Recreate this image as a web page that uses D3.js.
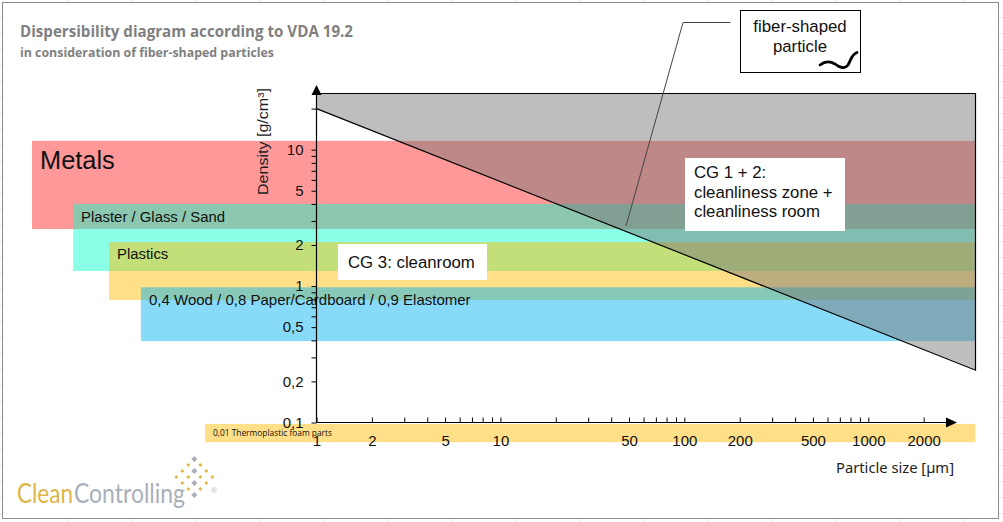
<!DOCTYPE html>
<html><head><meta charset="utf-8">
<script src="https://cdnjs.cloudflare.com/ajax/libs/d3/7.8.5/d3.min.js"></script>
<style>html,body{margin:0;padding:0;background:#fff}svg{display:block}</style>
</head><body><div id="chart"></div>
<script>
// ---- data ----
const bandNames   = ["Metals","Plaster / Glass / Sand","Plastics","0,4 Wood / 0,8 Paper/Cardboard / 0,9 Elastomer","0,01 Thermoplastic foam parts"];
const bandSizeMin = [0.0284, 0.0475, 0.0745, 0.111, 0.248];
const bandDensHi  = [11.6, 4.0, 2.1, 0.98, 0.0977];
const bandDensLo  = [2.62, 1.29, 0.79, 0.395, 0.0717];
const bandColors  = ["#ff0000","#00ffca","#ffbc00","#00b0f0","#ffbc00"];
const sizeTicks   = [1,2,3,4,5,6,7,8,9,10,20,30,40,50,60,70,80,90,100,200,300,400,500,600,700,800,900,1000,2000];
const sizeLabels  = [1,2,5,10,50,100,200,500,1000,2000];
const densTicks   = [0.1,0.2,0.3,0.4,0.5,0.6,0.7,0.8,0.9,1,2,3,4,5,6,7,8,9,10,20];
const densLabels  = [0.1,0.2,0.5,1,2,5,10];
const limitSizes  = [1, 3826];
const limitDens   = [20, 0.2417];
const densTop     = 25.8;

const W=1003,H=522;
const x=d3.scaleLog().domain(limitSizes).range([316.5,975.5]);
const y=d3.scaleLog().domain([0.1,densTop]).range([422.5,93.5]);
const svg=d3.select("#chart").append("svg").attr("width",W).attr("height",H);
const ARIAL="'Liberation Sans',Arial,sans-serif", OPEN="'Open Sans',sans-serif", NOTO="'Noto Sans',sans-serif";

// sheet grid remains outside the frame
const faint=svg.append("g").attr("stroke","#e3e3e3").attr("stroke-width",1);
d3.range(67.5,W,64).forEach(v=>{faint.append("line").attr("x1",v).attr("x2",v).attr("y1",0).attr("y2",2);faint.append("line").attr("x1",v).attr("x2",v).attr("y1",519).attr("y2",H);});
d3.range(17.5,H,16).forEach(v=>{faint.append("line").attr("x1",999).attr("x2",W).attr("y1",v).attr("y2",v);faint.append("line").attr("x1",0).attr("x2",2).attr("y1",v).attr("y2",v);});
// frame
svg.append("rect").attr("x",2.5).attr("y",2.5).attr("width",996).attr("height",516).attr("fill","#fff").attr("stroke","#8c8c8c").attr("stroke-width",1);

// titles
svg.append("text").attr("x",20).attr("y",36.5).attr("font-family",OPEN).attr("font-weight",700).attr("font-size",15.5).attr("fill","#7f7f7f").attr("textLength",333).attr("lengthAdjust","spacingAndGlyphs").text("Dispersibility diagram according to VDA 19.2");
svg.append("text").attr("x",20).attr("y",57).attr("font-family",OPEN).attr("font-weight",700).attr("font-size",12.5).attr("fill","#7f7f7f").attr("textLength",254).attr("lengthAdjust","spacingAndGlyphs").text("in consideration of fiber-shaped particles");

// material bands
svg.append("g").selectAll("rect").data(bandNames).join("rect")
  .attr("x",(d,i)=>x(bandSizeMin[i])).attr("width",(d,i)=>x(limitSizes[1])-x(bandSizeMin[i]))
  .attr("y",(d,i)=>y(bandDensHi[i])).attr("height",(d,i)=>y(bandDensLo[i])-y(bandDensHi[i]))
  .attr("fill",(d,i)=>bandColors[i]).attr("fill-opacity",(d,i)=>i===0?0.4:(i===1?0.45:0.47));

// grey zone above the limit line
const zone=[[limitSizes[0],densTop],[limitSizes[1],densTop],[limitSizes[1],limitDens[1]],[limitSizes[0],limitDens[0]]];
svg.append("path").attr("d",d3.line().x(d=>x(d[0])).y(d=>y(d[1]))(zone)+"")
  .attr("fill","#757575").attr("fill-opacity",0.47).attr("stroke","#000").attr("stroke-width",1.2);

// band labels
const labelX=[40,81,117,149,213], labelY=[169,222,259,305,436], labelS=[25.4,14.9,14.9,15,9.2];
svg.append("g").selectAll("text").data(bandNames).join("text")
  .attr("x",(d,i)=>labelX[i]).attr("y",(d,i)=>labelY[i]).attr("font-size",(d,i)=>labelS[i])
  .attr("font-family",(d,i)=>i===4?OPEN:ARIAL).attr("fill","#111")
  .attr("textLength",(d,i)=>i===4?119:null).attr("lengthAdjust","spacingAndGlyphs").text(d=>d);

// axes
const fmt=v=>String(v).replace(".",",");
const gx=svg.append("g").attr("transform","translate(0,422.5)").call(
  d3.axisBottom(x).tickValues(sizeTicks).tickSizeInner(-5).tickSizeOuter(0).tickPadding(13).tickFormat(v=>sizeLabels.includes(v)?fmt(v):""));
const gy=svg.append("g").attr("transform","translate(316.5,0)").call(
  d3.axisLeft(y).tickValues(densTicks).tickSize(5).tickPadding(8).tickFormat(v=>densLabels.includes(v)?fmt(v):""));
[gx,gy].forEach(g=>{g.select(".domain").remove();g.selectAll("text").attr("font-family",ARIAL).attr("font-size",15).attr("fill","#111");g.selectAll("line").attr("stroke","#000");});
svg.append("line").attr("x1",316.5).attr("x2",947).attr("y1",422.5).attr("y2",422.5).attr("stroke","#000").attr("stroke-width",1.2);
svg.append("line").attr("x1",316.5).attr("x2",316.5).attr("y1",422.5).attr("y2",94).attr("stroke","#000").attr("stroke-width",1.2);
svg.append("path").attr("d","M957,422.5L946,417.5L946,427.5Z").attr("fill","#000");
svg.append("path").attr("d","M316.5,85L311.5,95L321.5,95Z").attr("fill","#000");

// axis titles
svg.append("text").attr("x",836).attr("y",473).attr("font-family",NOTO).attr("font-size",15).attr("fill","#222").attr("textLength",118).attr("lengthAdjust","spacingAndGlyphs").text("Particle size [µm]");
svg.append("text").attr("transform","translate(267.5,195) rotate(-90)").attr("font-family",ARIAL).attr("font-size",15).attr("fill","#222").attr("textLength",107).attr("lengthAdjust","spacingAndGlyphs").text("Density [g/cm³]");

// white annotation boxes
svg.append("rect").attr("x",338).attr("y",244).attr("width",149).attr("height",36).attr("fill","#fff");
svg.append("text").attr("x",348).attr("y",268).attr("font-family",ARIAL).attr("font-size",16.8).attr("fill","#111").text("CG 3: cleanroom");
svg.append("rect").attr("x",685).attr("y",158).attr("width",160).attr("height",73).attr("fill","#fff");
["CG 1 + 2:","cleanliness zone +","cleanliness room"].forEach((t,i)=>svg.append("text").attr("x",694).attr("y",178+i*19.5).attr("font-family",ARIAL).attr("font-size",16.8).attr("fill","#111").text(t));

// fiber callout
svg.append("path").attr("d","M730.5,22.5L683,22.5L626,226").attr("fill","none").attr("stroke","#444").attr("stroke-width",1);
svg.append("rect").attr("x",740.5).attr("y",10.5).attr("width",120).attr("height",62).attr("fill","#fff").attr("stroke","#000").attr("stroke-width",1);
["fiber-shaped","particle"].forEach((t,i)=>svg.append("text").attr("x",800).attr("y",32+i*20).attr("text-anchor","middle").attr("font-family",ARIAL).attr("font-size",16.8).attr("fill","#111").text(t));
svg.append("path").attr("d","M820,65C825,61 830,61 835,64C840,68 845,69 848,65C851,60 851,55 857,52.5").attr("fill","none").attr("stroke","#000").attr("stroke-width",2.8).attr("stroke-linecap","round");

// logo
const logo=svg.append("g").attr("font-family","Lato,sans-serif").attr("font-weight",400).attr("font-size",27);
logo.append("text").attr("x",17).attr("y",503).attr("fill","#dcb545").attr("textLength",56).attr("lengthAdjust","spacingAndGlyphs").text("Clean");
logo.append("text").attr("x",74).attr("y",503).attr("fill","#a9afb9").attr("textLength",111).attr("lengthAdjust","spacingAndGlyphs").text("Controlling");
const dia=(col,row,r,c)=>svg.append("path").attr("transform",`translate(${194.3+col*6},${459+row*6})`).attr("d",`M0,${-r}L${r},0L0,${r}L${-r},0Z`).attr("fill",c);
[0,2,4,6].forEach(r=>dia(0,r,3,"#a8adb8"));
[[1,1],[2,2],[1,3],[3,3],[2,4],[1,5]].forEach(([c,r])=>{dia(c,r,2,"#e0b94a");dia(-c,r,2,"#e0b94a");});
svg.append("text").attr("x",214).attr("y",493).attr("text-anchor","middle").attr("font-family",ARIAL).attr("font-size",8).attr("fill","#b5b9c2").text("®");
</script></body></html>
